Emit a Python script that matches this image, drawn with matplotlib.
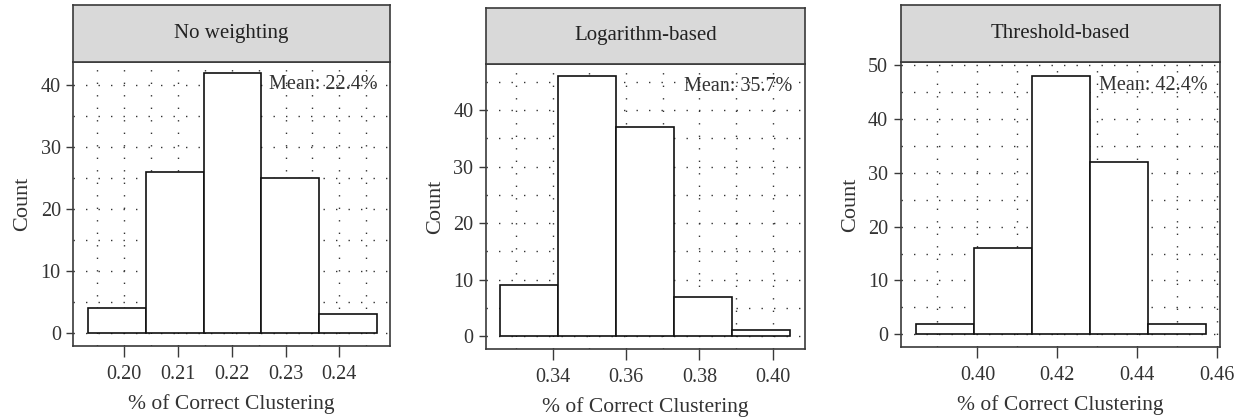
import numpy as np
import matplotlib
matplotlib.use("Agg")
import matplotlib.pyplot as plt
from matplotlib.ticker import MultipleLocator

plt.rcParams['font.family'] = ['Liberation Serif', 'DejaVu Serif']

titles = ['No weighting', 'Logarithm-based', 'Threshold-based']
means = ['Mean: 22.4%', 'Mean: 35.7%', 'Mean: 42.4%']

nw_edges = [0.1934, 0.2041, 0.2148, 0.2255, 0.2362, 0.2469]
nw_counts = [4, 26, 42, 25, 3]
log_edges = [0.3257, 0.3415, 0.3573, 0.3731, 0.3889, 0.4047]
log_counts = [9, 46, 37, 7, 1]
thr_edges = [0.3846, 0.3991, 0.4136, 0.4281, 0.4426, 0.4571]
thr_counts = [2, 16, 48, 32, 2]

x_ticks = [[0.20, 0.21, 0.22, 0.23, 0.24],
           [0.34, 0.36, 0.38, 0.40],
           [0.40, 0.42, 0.44, 0.46]]
y_ticks = [[0, 10, 20, 30, 40], [0, 10, 20, 30, 40], [0, 10, 20, 30, 40, 50]]

W, H = 1242, 419
fig = plt.figure(figsize=(W / 100, H / 100), dpi=100)

# pixel boxes: left, right, plot top, plot bottom, strip top
boxes = [(73.3, 390, 62, 346, 5.5),
         (486, 805, 64, 349, 7.7),
         (900.7, 1220, 62.3, 347, 5.3)]
xlims = [(0.1906, 0.2494), (0.3218, 0.4088), (0.3808, 0.4607)]
ylims = [(-2.1, 43.7), (-2.3, 48.2), (-2.36, 50.5)]
vgrid = [0.005, 0.01, 0.01]
data = [(nw_edges, nw_counts), (log_edges, log_counts), (thr_edges, thr_counts)]

edge_col = '#3a3a3a'
for i, (l, r, t, b, st) in enumerate(boxes):
    ax = fig.add_axes([l / W, 1 - b / H, (r - l) / W, (b - t) / H])
    edges, counts = data[i]
    edges = np.array(edges)
    ax.bar(edges[:-1], counts, width=np.diff(edges), align='edge',
           facecolor='white', edgecolor='#111111', linewidth=1.2, zorder=3)
    ax.set_xlim(*xlims[i])
    ax.set_ylim(*ylims[i])
    ax.set_xticks(x_ticks[i])
    ax.set_xticklabels([f'{v:.2f}' for v in x_ticks[i]])
    ax.set_yticks(y_ticks[i])
    ax.xaxis.set_minor_locator(MultipleLocator(vgrid[i]))
    ax.yaxis.set_minor_locator(MultipleLocator(5))
    ax.grid(which='both', linestyle=(0, (1, 8)), linewidth=1.0,
            color='#333333', zorder=1)
    ax.set_axisbelow(True)
    ax.tick_params(which='minor', length=0)
    ax.tick_params(axis='x', which='major', length=8, width=1, color=edge_col,
                   labelsize=14.5, labelcolor='#333333', pad=6)
    ax.tick_params(axis='y', which='major', length=5, width=1, color=edge_col,
                   labelsize=14.5, labelcolor='#333333', pad=4)
    for s in ax.spines.values():
        s.set_color(edge_col)
        s.set_linewidth(1.2)
    ax.set_xlabel('% of Correct Clustering', fontsize=15.5, color='#333333',
                  labelpad=7)
    ax.set_ylabel('Count', fontsize=16, color='#333333', labelpad=6)
    ax.text(0.96, 0.92, means[i], transform=ax.transAxes, ha='right',
            va='center', fontsize=14.5, color='#333333', zorder=4)

    # strip header above each panel
    sax = fig.add_axes([l / W, 1 - t / H, (r - l) / W, (t - st) / H])
    sax.set_facecolor('#d9d9d9')
    sax.set_xticks([])
    sax.set_yticks([])
    for s in sax.spines.values():
        s.set_color(edge_col)
        s.set_linewidth(1.2)
    sax.text(0.5, 0.5, titles[i], transform=sax.transAxes, ha='center',
             va='center', fontsize=15, color='#222222')

fig.savefig('out.png', dpi=100)
